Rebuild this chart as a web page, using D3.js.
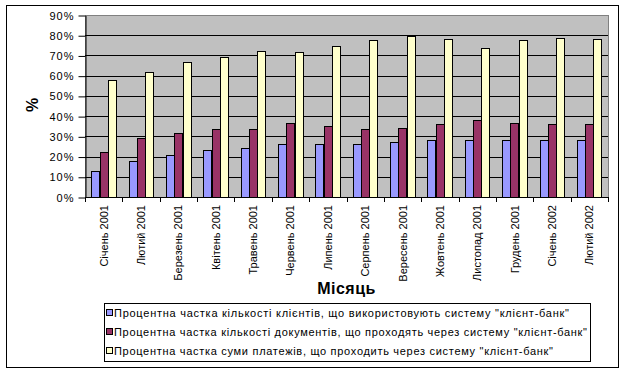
<!DOCTYPE html>
<head>
  <meta charset="utf-8" />
  <title>клієнт-банк</title>
  <style>
    body { margin: 0; background: #fff; }
    text { font-family: "Liberation Sans", Arial, sans-serif; }
  </style>
</head>
<body>
  <script src="https://cdn.jsdelivr.net/npm/d3@7"></script>
  <script>
    // data (percent)
    var months = ["Січень 2001", "Лютий 2001", "Березень 2001", "Квітень 2001", "Травень 2001",
      "Червень 2001", "Липень 2001", "Серпень 2001", "Вересень 2001", "Жовтень 2001",
      "Листопад 2001", "Грудень 2001", "Січень 2002", "Лютий 2002"];
    var clients = [13, 18, 21, 23, 24, 26, 26, 26, 27, 28, 28, 28, 28, 28];
    var documents = [22.5, 29, 31.5, 33.5, 33.5, 36.5, 35, 33.5, 34, 36, 38, 36.5, 36, 36];
    var payments = [58, 62, 67, 69, 72, 71.5, 74.5, 77.5, 79.5, 78, 73.5, 77.5, 78.5, 78];
    var seriesNames = [
      "Процентна частка кількості клієнтів, що використовують систему \"клієнт-банк\"",
      "Процентна частка кількості документів, що проходять через систему \"клієнт-банк\"",
      "Процентна частка суми платежів, що проходить через систему \"клієнт-банк\""
    ];
    var colors = ["#9999FF", "#993366", "#FFFFCC"];
    var yTicks = [0, 10, 20, 30, 40, 50, 60, 70, 80, 90];

    var series = [clients, documents, payments];
    var W = 626, H = 373;
    var pLeft = 85, pRight = 608, pTop = 15, pBottom = 197;

    var svg = d3.select("body").append("svg").attr("width", W).attr("height", H);

    // outer chart frame
    svg.append("rect").attr("x", 6.5).attr("y", 5.5).attr("width", 612).attr("height", 362)
      .attr("fill", "#fff").attr("stroke", "#000");

    // Excel gap width 150%: band = 4.5 bar widths
    var x = d3.scaleBand().domain(months).range([pLeft, pRight]);
    var bw = x.bandwidth() / 4.5;
    var y = d3.scaleLinear().domain([0, 90]).range([pBottom, pTop]);

    svg.append("rect").attr("x", pLeft + 0.5).attr("y", pTop + 0.5)
      .attr("width", pRight - pLeft).attr("height", pBottom - pTop)
      .attr("fill", "#C0C0C0").attr("stroke", "#808080");

    svg.append("g").selectAll("line").data(yTicks.slice(1, -1)).enter().append("line")
      .attr("x1", pLeft).attr("x2", pRight)
      .attr("y1", function (d) { return Math.round(y(d)) + 0.5; })
      .attr("y2", function (d) { return Math.round(y(d)) + 0.5; })
      .attr("stroke", "#000");

    series.forEach(function (vals, si) {
      svg.append("g").selectAll("rect").data(vals).enter().append("rect")
        .attr("x", function (d, i) { return Math.round(x(months[i]) + 0.75 * bw + si * bw) + 0.5; })
        .attr("y", function (d) { return Math.round(y(d)) + 0.5; })
        .attr("width", Math.round(bw))
        .attr("height", function (d) { return pBottom - Math.round(y(d)); })
        .attr("fill", colors[si]).attr("stroke", "#000");
    });

    // y axis
    var ya = svg.append("g").attr("transform", "translate(" + (pLeft + 0.5) + ",0.5)")
      .call(d3.axisLeft(y).tickValues(yTicks).tickSize(7).tickSizeOuter(0).tickPadding(4)
        .tickFormat(function (d) { return d + "%"; }));
    ya.select(".domain").attr("stroke", "#000");
    ya.selectAll("text").attr("font-size", 11).attr("letter-spacing", 1).attr("fill", "#000")
      .attr("font-family", "Liberation Sans, Arial, sans-serif");

    // x axis
    svg.append("line").attr("x1", pLeft).attr("x2", pRight).attr("y1", pBottom + 0.5).attr("y2", pBottom + 0.5)
      .attr("stroke", "#000");
    svg.append("g").selectAll("line").data(months.concat(["end"])).enter().append("line")
      .attr("x1", function (d, i) { return Math.round(pLeft + i * x.step()) + 0.5; })
      .attr("x2", function (d, i) { return Math.round(pLeft + i * x.step()) + 0.5; })
      .attr("y1", pBottom).attr("y2", pBottom + 5).attr("stroke", "#000");
    svg.append("g").selectAll("text").data(months).enter().append("text")
      .attr("transform", function (d) {
        return "translate(" + (x(d) + x.bandwidth() / 2 + 4) + "," + (pBottom + 8) + ") rotate(-90)";
      })
      .attr("text-anchor", "end").attr("font-size", 11).text(function (d) { return d; });

    // axis titles
    svg.append("text").attr("transform", "translate(38,105) rotate(-90)")
      .attr("text-anchor", "middle").attr("font-size", 16).attr("font-weight", "bold").text("%");
    svg.append("text").attr("x", (pLeft + pRight) / 2).attr("y", 294)
      .attr("text-anchor", "middle").attr("font-size", 16).attr("font-weight", "bold")
      .attr("letter-spacing", 0.5).text("Місяць");

    // legend
    var lg = svg.append("g");
    lg.append("rect").attr("x", 104.5).attr("y", 303.5).attr("width", 486).attr("height", 58)
      .attr("fill", "#fff").attr("stroke", "#000");
    var legendW = [455, 473, 439];
    seriesNames.forEach(function (name, i) {
      var cy = 313 + i * 19;
      lg.append("rect").attr("x", 106.5).attr("y", cy - 3.5).attr("width", 6).attr("height", 6)
        .attr("fill", colors[i]).attr("stroke", "#000");
      lg.append("text").attr("x", 114).attr("y", cy + 4).attr("font-size", 11)
        .attr("textLength", legendW[i]).attr("lengthAdjust", "spacing").text(name);
    });
  </script>
</body>
